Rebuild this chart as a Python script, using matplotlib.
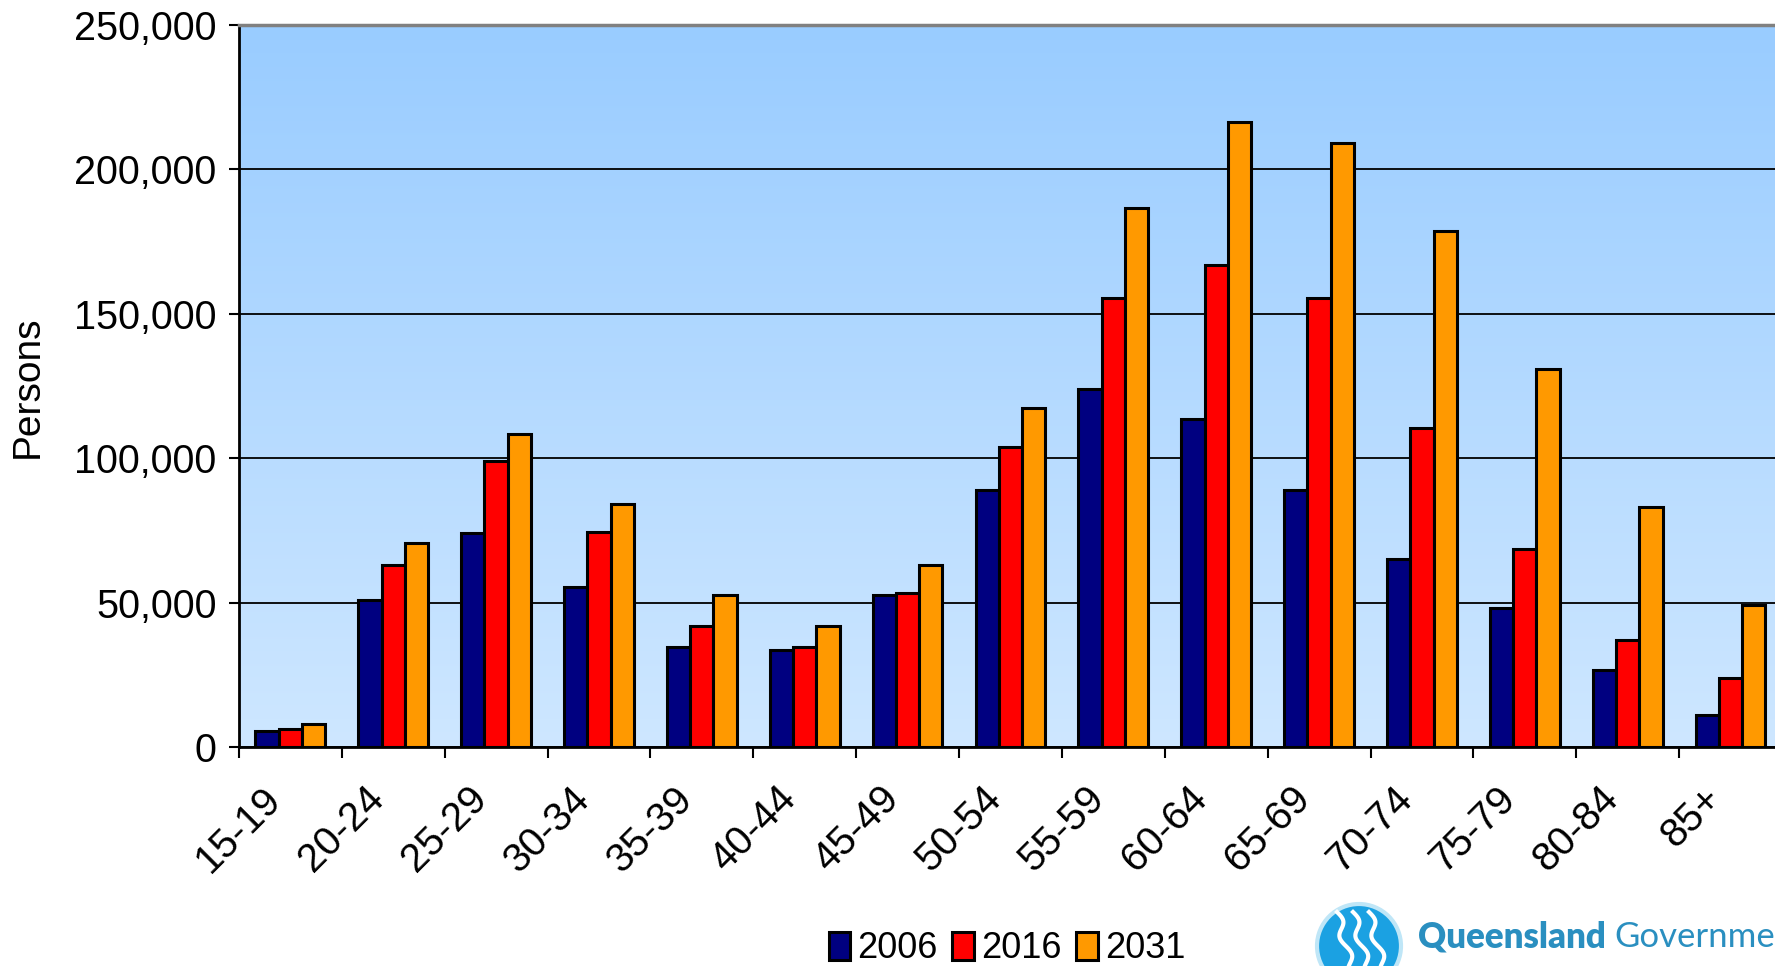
import matplotlib.pyplot as plt
import matplotlib.transforms as mtransforms
from matplotlib.patches import Circle
import numpy as np

plt.rcParams['font.family'] = ['Liberation Sans', 'DejaVu Sans']

age_groups = ["15-19", "20-24", "25-29", "30-34", "35-39", "40-44", "45-49", "50-54",
              "55-59", "60-64", "65-69", "70-74", "75-79", "80-84", "85+"]
persons_2006 = [5500, 51000, 74000, 55500, 34500, 33500, 52500, 89000,
                124000, 113500, 89000, 65000, 48000, 26500, 11000]
persons_2016 = [6300, 63000, 99000, 74500, 42000, 34500, 53300, 104000,
                155500, 167000, 155500, 110500, 68500, 37000, 24000]
persons_2031 = [8100, 70500, 108500, 84000, 52500, 42000, 63000, 117500,
                186500, 216500, 209000, 178500, 130800, 83000, 49000]
years = ["2006", "2016", "2031"]
colors = ["#000080", "#FF0000", "#FF9900"]
yticks = [0, 50000, 100000, 150000, 200000, 250000]

fig = plt.figure(figsize=(17.75, 9.66), dpi=100)
ax = fig.add_axes([238.9 / 1775, 1 - 747 / 966, (1782 - 238.9) / 1775, (747 - 25) / 966])

# gradient background of the plot area
grad = np.linspace(0, 1, 256).reshape(-1, 1)
bg = np.zeros((256, 1, 3))
top = np.array([153, 204, 255]) / 255
bottom = np.array([206, 231, 255]) / 255
bg[:, 0, :] = top + (bottom - top) * grad
ax.imshow(bg, extent=[0, 1, 0, 1], transform=ax.transAxes, aspect="auto", zorder=0)

x = np.arange(len(age_groups))
w = 0.226
for k, (vals, c) in enumerate(zip([persons_2006, persons_2016, persons_2031], colors)):
    ax.bar(x + (k - 1) * w, vals, width=w, color=c, edgecolor="black", linewidth=2.2,
           label=years[k], zorder=3)

ax.set_xlim(-0.5, len(age_groups) - 0.5)
ax.set_ylim(0, 250000)
ax.set_yticks(yticks)
ax.set_yticklabels([f"{v:,}" for v in yticks], fontsize=28.5)
ax.yaxis.grid(True, color="black", linewidth=1.3, zorder=1)
ax.set_axisbelow(True)

ax.set_xticks(x)
ax.set_xticklabels(age_groups, fontsize=29, rotation=45, ha="right", va="center",
                   rotation_mode="anchor")
ax.set_xticks(np.arange(len(age_groups) + 1) - 0.5, minor=True)
ax.tick_params(axis="x", which="major", length=0, pad=33)
ax.tick_params(axis="x", which="minor", length=8, width=1.5, direction="out")
ax.tick_params(axis="y", length=7, width=1.5, pad=9)
offset = mtransforms.ScaledTranslation(-15 / 100, 0, fig.dpi_scale_trans)
for lbl in ax.get_xticklabels():
    lbl.set_transform(lbl.get_transform() + offset)

ax.spines["top"].set_color("#808080")
ax.spines["top"].set_linewidth(2.5)
ax.spines["left"].set_linewidth(2)
ax.spines["bottom"].set_linewidth(2)
ax.spines["right"].set_visible(False)

fig.text(28 / 1775, 1 - 387 / 966, "Persons", rotation=90, fontsize=28,
         ha="center", va="center")

leg = fig.legend(loc="center", bbox_to_anchor=(1007 / 1775, 1 - 949 / 966), ncol=3,
                 frameon=False, fontsize=26, handlelength=0.6, handleheight=0.8,
                 handletextpad=0.2, columnspacing=0.4, borderaxespad=0)

# Queensland Government logo (approximation)
fig.add_artist(Circle((13.59, 0.20), 0.42, transform=fig.dpi_scale_trans,
                      facecolor="#1BA1E2", edgecolor="#BFE6F7", linewidth=3,
                      clip_on=False))
t = np.linspace(0, 1, 50)
for dx in [-22, -6, 10]:
    xs = (1359 + dx + t * 14 + 4 * np.sin(t * 10)) / 1775
    ys = 1 - (912 + t * 54) / 966
    fig.add_artist(plt.Line2D(xs, ys, color="white", linewidth=3, transform=fig.transFigure))
fig.text(1418 / 1775, 1 - 947 / 966, "Queensland", fontsize=25, fontweight="heavy",
         color="#2A8FC0", family="Lato", va="baseline")
fig.text(1614 / 1775, 1 - 947 / 966, "Government", fontsize=25,
         color="#2A8FC0", family="Lato", va="baseline")

fig.savefig("out.png", dpi=100)
